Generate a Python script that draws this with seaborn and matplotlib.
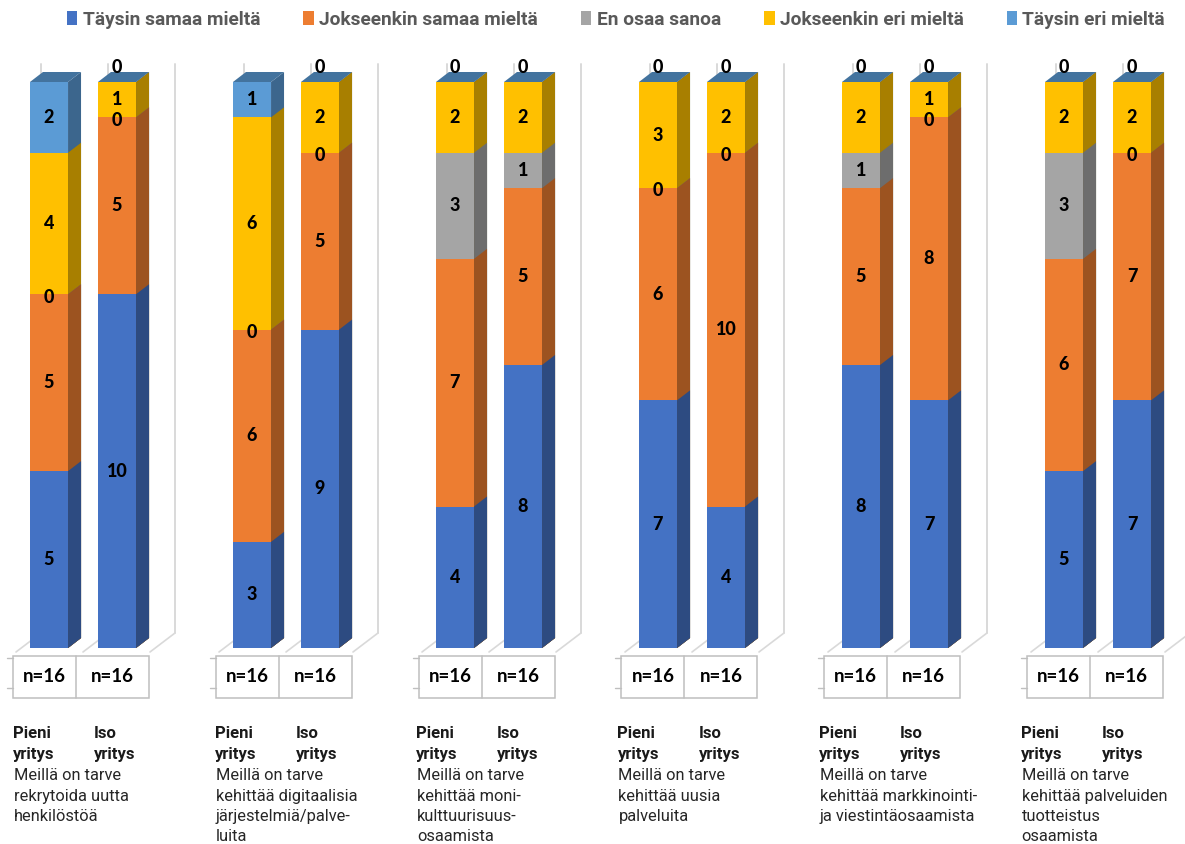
import numpy as np
import pandas as pd
import seaborn as sns
import matplotlib
matplotlib.use("Agg")
import matplotlib.pyplot as plt
from matplotlib.patches import Polygon, Rectangle, Patch
from matplotlib.colors import to_rgb

# ---- data -------------------------------------------------------------
group_keys = ["rekrytointi", "digitaalisuus", "monikulttuurisuus",
              "uudet palvelut", "markkinointi", "tuotteistus"]
group_texts = [
    ["Meillä on tarve", "rekrytoida uutta", "henkilöstöä"],
    ["Meillä on tarve", "kehittää digitaalisia", "järjestelmiä/palve-", "luita"],
    ["Meillä on tarve", "kehittää moni-", "kulttuurisuus-", "osaamista"],
    ["Meillä on tarve", "kehittää uusia", "palveluita"],
    ["Meillä on tarve", "kehittää markkinointi-", "ja viestintäosaamista"],
    ["Meillä on tarve", "kehittää palveluiden", "tuotteistus", "osaamista"],
]
sizes = ["Pieni yritys", "Iso yritys"]
series = ["Täysin samaa mieltä", "Jokseenkin samaa mieltä", "En osaa sanoa",
          "Jokseenkin eri mieltä", "Täysin eri mieltä"]
colors = ["#4472C4", "#ED7D31", "#A5A5A5", "#FFC000", "#5B9BD5"]

taysin_samaa_pieni = [5, 3, 4, 7, 8, 5]
taysin_samaa_iso = [10, 9, 8, 4, 7, 7]
jokseenkin_samaa_pieni = [5, 6, 7, 6, 5, 6]
jokseenkin_samaa_iso = [5, 5, 5, 10, 8, 7]
en_osaa_pieni = [0, 0, 3, 0, 1, 3]
en_osaa_iso = [0, 0, 1, 0, 0, 0]
jokseenkin_eri_pieni = [4, 6, 2, 3, 2, 2]
jokseenkin_eri_iso = [1, 2, 2, 2, 1, 2]
taysin_eri_pieni = [2, 1, 0, 0, 0, 0]
taysin_eri_iso = [0, 0, 0, 0, 0, 0]

pieni_series = [taysin_samaa_pieni, jokseenkin_samaa_pieni, en_osaa_pieni,
                jokseenkin_eri_pieni, taysin_eri_pieni]
iso_series = [taysin_samaa_iso, jokseenkin_samaa_iso, en_osaa_iso,
              jokseenkin_eri_iso, taysin_eri_iso]

rows = []
for g, key in enumerate(group_keys):
    for size, arrays in zip(sizes, (pieni_series, iso_series)):
        vals = [arr[g] for arr in arrays]
        cum = np.cumsum(vals)
        row = {"group": key, "size": size}
        for k in range(len(series)):
            row[f"v{k}"] = vals[k]
            row[f"c{k}"] = cum[k]
        rows.append(row)
df = pd.DataFrame(rows)

# ---- canvas -----------------------------------------------------------
sns.set_theme(style="white")
plt.rcParams["font.family"] = ["Roboto", "DejaVu Sans"]

W, H = 1185, 844
fig = plt.figure(figsize=(W / 100, H / 100), dpi=100)
ax = fig.add_axes([0, 0, 1, 1])

GROUP_PX = 203.0     # distance between category centres
CENTER0 = 83.0       # pixel x of first category centre
BASE_PY = 648.0      # pixel y (from top) of the bar baseline
UNIT_PX = 35.375     # pixels per answer


def X(px):
    return (px - CENTER0) / GROUP_PX


def Y(py):
    return (BASE_PY - py) / UNIT_PX


def shade(c, f):
    r, g, b = to_rgb(c)
    return (r * f, g * f, b * f)


dx, dy = 13 / GROUP_PX, 10 / UNIT_PX   # depth of the pseudo-3D bars
grid_c = "#D9D9D9"

# back wall and floor lines
for g in range(len(group_keys)):
    for b in (-67, 0, 67):
        front = CENTER0 + g * GROUP_PX + b
        back = front + 25
        ax.plot([X(back), X(back)], [Y(633), Y(64)], color=grid_c, lw=1.4, zorder=0.5)
        ax.plot([X(back), X(front)], [Y(633), Y(652)], color=grid_c, lw=1.2, zorder=0.5)

# stacked bars: cumulative totals drawn from the top series downwards
top_patches = None
centers = {}
for k in reversed(range(len(series))):
    n0 = len(ax.patches)
    sns.barplot(data=df, x="group", y=f"c{k}", hue="size", order=group_keys,
                hue_order=sizes, palette={s: colors[k] for s in sizes},
                width=0.67, gap=0.44, dodge=True, errorbar=None, saturation=1,
                legend=False, ax=ax, linewidth=0, zorder=2)
    new = ax.patches[n0:]
    if top_patches is None:
        top_patches = list(new)
    for p in new:
        x0, w, h = p.get_x(), p.get_width(), p.get_height()
        ax.add_patch(Polygon([(x0 + w, 0), (x0 + w + dx, dy),
                              (x0 + w + dx, h + dy), (x0 + w, h)],
                             closed=True, fc=shade(colors[k], 0.66), ec="none", zorder=2))

for p in top_patches:
    x0, w, h = p.get_x(), p.get_width(), p.get_height()
    ax.add_patch(Polygon([(x0, h), (x0 + w, h), (x0 + w + dx, h + dy), (x0 + dx, h + dy)],
                         closed=True, fc=shade(colors[-1], 0.74), ec="none", zorder=2))
    xc = x0 + w / 2
    g = int(round(xc))
    centers[(g, 0 if xc < g else 1)] = xc

# value labels
num_font = dict(family=["Lato", "DejaVu Sans"], weight=900, size=13, color="black")
for (g, s), xc in centers.items():
    r = df[(df["group"] == group_keys[g]) & (df["size"] == sizes[s])].iloc[0]
    total = r[f"c{len(series) - 1}"]
    for k in range(len(series)):
        v, c = r[f"v{k}"], r[f"c{k}"]
        if v > 0:
            y = c - v / 2
        elif k == len(series) - 1:
            y = total + 0.4
        else:
            y = c - 0.08
        ax.text(xc, y, f"{v}", ha="center", va="center", zorder=6, **num_font)

# data table with respondent counts
for g, key in enumerate(group_keys):
    left = 13 + 202.8 * g
    mid = 76 + 202.8 * g
    right = 149 + 202.8 * g
    top, bot = 656, 698
    ax.add_patch(Rectangle((X(left), Y(bot)), X(right) - X(left), Y(top) - Y(bot),
                           fc="white", ec="#BFBFBF", lw=1.1, zorder=3))
    ax.plot([X(mid), X(mid)], [Y(top), Y(bot)], color="#BFBFBF", lw=1.1, zorder=4)
    for yy in (658, 688):
        ax.plot([X(left - 6), X(left)], [Y(yy), Y(yy)], color="#BFBFBF", lw=1.0, zorder=4)
    for s, (a, b) in enumerate(((left, mid), (mid, right))):
        n = int(df[(df["group"] == key) & (df["size"] == sizes[s])][f"c{len(series) - 1}"].iloc[0])
        ax.text(X((a + b) / 2), Y(677), f"n={n}", ha="center", va="center", zorder=5,
                family=["Lato", "DejaVu Sans"], weight="bold", size=13.5, color="black")

ax.set_xlim(X(0), X(W))
ax.set_ylim(Y(H), Y(0))
ax.set_axis_off()

# category captions
for g, lines in enumerate(group_texts):
    xl = 13 + 201.5 * g
    xi = 94 + 201.5 * g
    for word_x, words in ((xl, ("Pieni", "yritys")), (xi, ("Iso", "yritys"))):
        for i, wd in enumerate(words):
            fig.text(word_x / W, 1 - (734 + 20.5 * i) / H, wd, ha="left", va="center",
                     fontsize=12, fontweight="bold", color="#1a1a1a")
    for i, line in enumerate(lines):
        fig.text((xl + 1) / W, 1 - (776 + 20.3 * i) / H, line, ha="left", va="center",
                 fontsize=11.8, color="#262626")

# legend
handles = [Patch(facecolor=c, edgecolor="none") for c in colors]
fig.legend(handles, series, loc="center", bbox_to_anchor=(616 / W, 1 - 20 / H), ncol=5,
           frameon=False, handlelength=0.55, handleheight=0.75, handletextpad=0.27,
           columnspacing=2.25, labelcolor="#595959",
           prop=dict(family=["Liberation Sans Narrow", "Roboto"], weight="bold", size=13.8))

fig.savefig("out.png", dpi=100, facecolor="white")
